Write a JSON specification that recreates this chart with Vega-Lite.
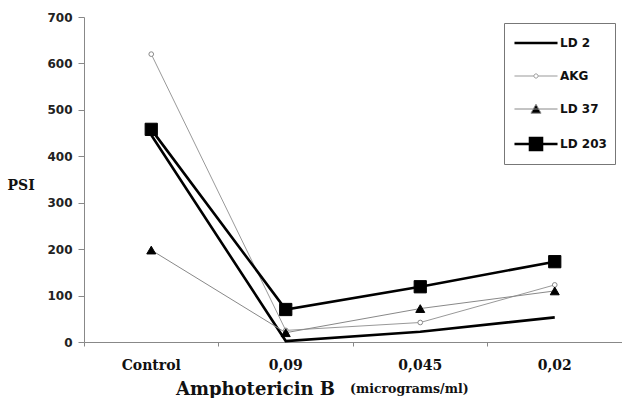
{
  "$schema": "https://vega.github.io/schema/vega-lite/v6.json",
  "width": 538,
  "height": 325,
  "autosize": {"type": "none"},
  "padding": {"left": 84, "top": 17, "right": 0, "bottom": 56},
  "background": "white",
  "config": {"view": {"stroke": null}},
  "title": {"text": "(micrograms/ml)", "orient": "bottom", "anchor": "start", "frame": "group", "dx": 266, "dy": -15, "offset": 0, "font": "DejaVu Serif", "fontSize": 12.5, "fontWeight": "bold", "color": "#111"},
  "data": {"values": [
    {"dose": "Control", "series": "LD 2", "psi": 446},
    {"dose": "0,09", "series": "LD 2", "psi": 2},
    {"dose": "0,045", "series": "LD 2", "psi": 22},
    {"dose": "0,02", "series": "LD 2", "psi": 53},
    {"dose": "Control", "series": "AKG", "psi": 620},
    {"dose": "0,09", "series": "AKG", "psi": 25},
    {"dose": "0,045", "series": "AKG", "psi": 42},
    {"dose": "0,02", "series": "AKG", "psi": 123},
    {"dose": "Control", "series": "LD 37", "psi": 198},
    {"dose": "0,09", "series": "LD 37", "psi": 20},
    {"dose": "0,045", "series": "LD 37", "psi": 72},
    {"dose": "0,02", "series": "LD 37", "psi": 110},
    {"dose": "Control", "series": "LD 203", "psi": 458},
    {"dose": "0,09", "series": "LD 203", "psi": 70},
    {"dose": "0,045", "series": "LD 203", "psi": 119},
    {"dose": "0,02", "series": "LD 203", "psi": 173}
  ]},
  "encoding": {
    "x": {"field": "dose", "type": "nominal", "sort": ["Control", "0,09", "0,045", "0,02"],
      "scale": {"type": "band", "paddingInner": 0, "paddingOuter": 0},
      "axis": {"bandPosition": 0, "domainColor": "#888", "tickColor": "#888", "tickSize": 4, "labelAngle": 0,
        "labelFont": "DejaVu Serif", "labelFontSize": 14, "labelFontWeight": "bold", "labelColor": "#111", "labelPadding": 12,
        "title": "Amphotericin B", "titleFont": "DejaVu Serif", "titleFontSize": 18, "titleFontWeight": "bold", "titleColor": "#111",
        "titleX": 171, "titleY": 52, "titleAlign": "center", "titleBaseline": "alphabetic"}},
    "y": {"field": "psi", "type": "quantitative", "scale": {"domain": [0, 700], "nice": false},
      "axis": {"values": [0, 100, 200, 300, 400, 500, 600, 700], "grid": false, "domainColor": "#888", "tickColor": "#888", "tickSize": 6,
        "labelFont": "DejaVu Sans", "labelFontSize": 12, "labelFontWeight": "bold", "labelColor": "#222", "labelPadding": 6,
        "title": "PSI", "titleAngle": 0, "titleX": -77, "titleY": 168, "titleAlign": "left", "titleBaseline": "middle",
        "titleFont": "DejaVu Serif", "titleFontSize": 14, "titleFontWeight": "bold", "titleColor": "#111"}}
  },
  "layer": [
    {
      "mark": {"type": "line"},
      "encoding": {
        "color": {"field": "series", "type": "nominal",
          "scale": {"domain": ["LD 2", "AKG", "LD 37", "LD 203"], "range": ["#000", "#999", "#888", "#000"]},
          "legend": {"title": null, "orient": "none", "legendX": 420, "legendY": 6, "padding": 8,
            "strokeColor": "#777", "fillColor": "#fff", "symbolSize": 441, "symbolOffset": 12, "labelOffset": 12, "rowPadding": 16,
            "labelFont": "DejaVu Sans", "labelFontSize": 12, "labelFontWeight": "bold", "labelColor": "#111",
            "encode": {"symbols": {"update": {
              "shape": {"signal": "datum.value == 'LD 2' ? 'M-2.05,0H2.05' : datum.value == 'AKG' ? 'M-2.05,0H-0.2M0.2,0H2.05M0.2,0A0.2,0.2,0,1,1,-0.2,0A0.2,0.2,0,1,1,0.2,0Z' : datum.value == 'LD 37' ? 'M-2.05,0H2.05M0,-0.45L0.48,0.4H-0.48Z' : 'M-2.05,0H2.05M-0.57,-0.57H0.57V0.57H-0.57Z'"},
              "fill": {"signal": "datum.value == 'AKG' ? '#fff' : datum.value == 'LD 2' ? 'transparent' : '#000'"},
              "stroke": {"signal": "datum.value == 'AKG' || datum.value == 'LD 37' ? '#888' : '#000'"},
              "strokeWidth": {"signal": "datum.value == 'LD 2' || datum.value == 'LD 203' ? 2.6 : 1"},
              "size": {"value": 441},
              "opacity": {"value": 1},
              "fillOpacity": {"value": 1},
              "strokeOpacity": {"value": 1}
            }}}
          }},
        "strokeWidth": {"field": "series", "type": "nominal",
          "scale": {"type": "ordinal", "domain": ["LD 2", "AKG", "LD 37", "LD 203"], "range": [2.6, 1, 1, 2.6]}, "legend": null}
      }
    },
    {
      "transform": [{"filter": "datum.series != 'LD 2'"}],
      "mark": {"type": "point", "filled": true, "opacity": 1, "strokeWidth": 1},
      "encoding": {
        "shape": {"field": "series", "type": "nominal", "scale": {"domain": ["AKG", "LD 37", "LD 203"], "range": ["circle", "triangle-up", "square"]}, "legend": null},
        "fill": {"field": "series", "type": "nominal", "scale": {"domain": ["AKG", "LD 37", "LD 203"], "range": ["#fff", "#000", "#000"]}, "legend": null},
        "stroke": {"field": "series", "type": "nominal", "scale": {"domain": ["AKG", "LD 37", "LD 203"], "range": ["#888", "#000", "#000"]}, "legend": null},
        "size": {"field": "series", "type": "nominal", "scale": {"type": "ordinal", "domain": ["AKG", "LD 37", "LD 203"], "range": [22, 80, 150]}, "legend": null}
      }
    }
  ]
}
